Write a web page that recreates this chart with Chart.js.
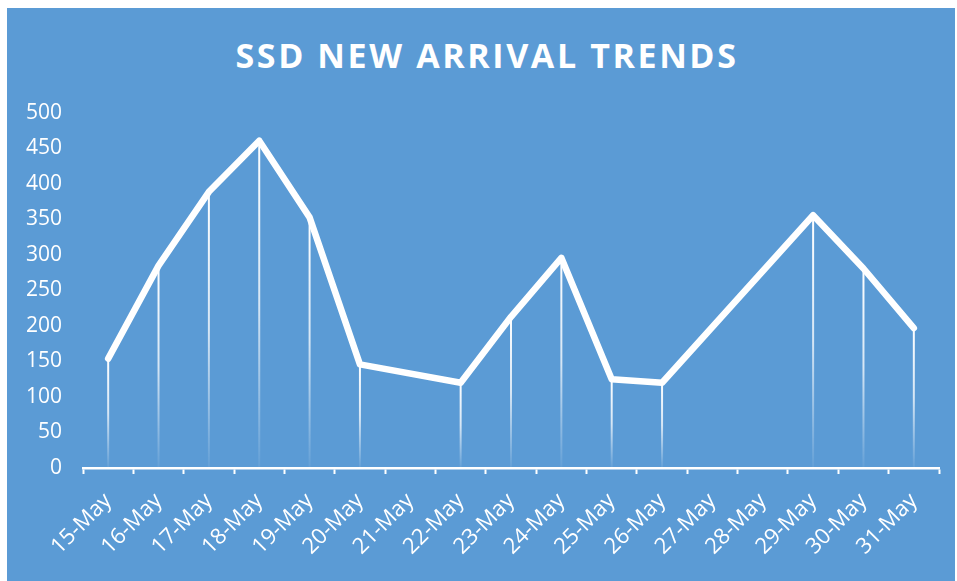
<!DOCTYPE html>
<html>
<head>
<meta charset="utf-8">
<script src="https://cdn.jsdelivr.net/npm/chart.js@4/dist/chart.umd.min.js"></script>
<style>
  html, body { margin: 0; padding: 0; background: #fff; }
  body { width: 957px; height: 581px; position: relative; overflow: hidden; }
  #panel { position: absolute; left: 7px; top: 8px; width: 948px; height: 573px; background: #5b9bd5; }
  #title {
    position: absolute; left: 6px; top: 24px; width: 948px; text-align: center;
    font-family: "Open Sans", sans-serif; font-weight: 700; font-size: 34px;
    letter-spacing: 2.6px; color: #fff;
  }
  #chart { position: absolute; left: 0; top: 0; }
</style>
</head>
<body>
<div id="panel">
  <div id="title">SSD NEW ARRIVAL TRENDS</div>
  <canvas id="chart" width="948" height="573"></canvas>
</div>
<script>
  const days = ["15-May", "16-May", "17-May", "18-May", "19-May", "20-May", "21-May", "22-May", "23-May",
    "24-May", "25-May", "26-May", "27-May", "28-May", "29-May", "30-May", "31-May"];
  // no entry on 21, 27 and 28 May: the line just spans across
  const arrivals = [154, 285, 389, 461, 353, 146, null, 120, 213, 296, 125, 120, null, null, 356, 281, 197];
  const yTicks = [0, 50, 100, 150, 200, 250, 300, 350, 400, 450, 500];

  const white = "#ffffff";

  // vertical fading drop lines from each point to the axis
  const dropLines = {
    id: "dropLines",
    beforeDatasetsDraw(chart) {
      const { ctx, scales } = chart;
      const base = scales.y.getPixelForValue(0);
      ctx.save();
      ctx.lineWidth = 2;
      arrivals.forEach((v, i) => {
        if (v == null) return;
        const x = scales.x.getPixelForValue(i);
        const y = scales.y.getPixelForValue(v);
        const g = ctx.createLinearGradient(0, y, 0, base);
        g.addColorStop(0, "rgba(255,255,255,1)");
        g.addColorStop(0.5, "rgba(255,255,255,0.75)");
        g.addColorStop(1, "rgba(255,255,255,0.05)");
        ctx.strokeStyle = g;
        ctx.beginPath();
        ctx.moveTo(x, y);
        ctx.lineTo(x, base);
        ctx.stroke();
      });
      ctx.restore();
    },
  };

  new Chart(document.getElementById("chart"), {
    type: "line",
    data: {
      labels: days,
      datasets: [{
        data: arrivals,
        borderColor: white,
        borderWidth: 6.5,
        borderJoinStyle: "round",
        borderCapStyle: "round",
        pointRadius: 0,
        tension: 0,
        spanGaps: true,
      }],
    },
    options: {
      responsive: false,
      animation: false,
      layout: { padding: { top: 105, right: 16, left: 0, bottom: 0 } },
      plugins: { legend: { display: false }, tooltip: { enabled: false }, title: { display: false } },
      scales: {
        x: {
          offset: true,
          afterFit: (s) => { s.height = 113; },
          border: { display: true, color: white, width: 2.5 },
          grid: { offset: true, drawOnChartArea: false, drawTicks: true, tickLength: 6, tickColor: white, tickWidth: 2 },
          ticks: {
            color: white, font: { family: "'Open Sans', sans-serif", size: 22 },
            minRotation: 45, maxRotation: 45, autoSkip: false, padding: 14,
          },
        },
        y: {
          min: 0,
          max: 500,
          afterFit: (s) => { s.width = 76; },
          afterBuildTicks: (s) => { s.ticks = yTicks.map((v) => ({ value: v })); },
          border: { display: false },
          grid: { display: false, drawTicks: false },
          ticks: { color: white, font: { family: "'Open Sans', sans-serif", size: 21 }, padding: 21 },
        },
      },
    },
    plugins: [dropLines],
  });
</script>
</body>
</html>
